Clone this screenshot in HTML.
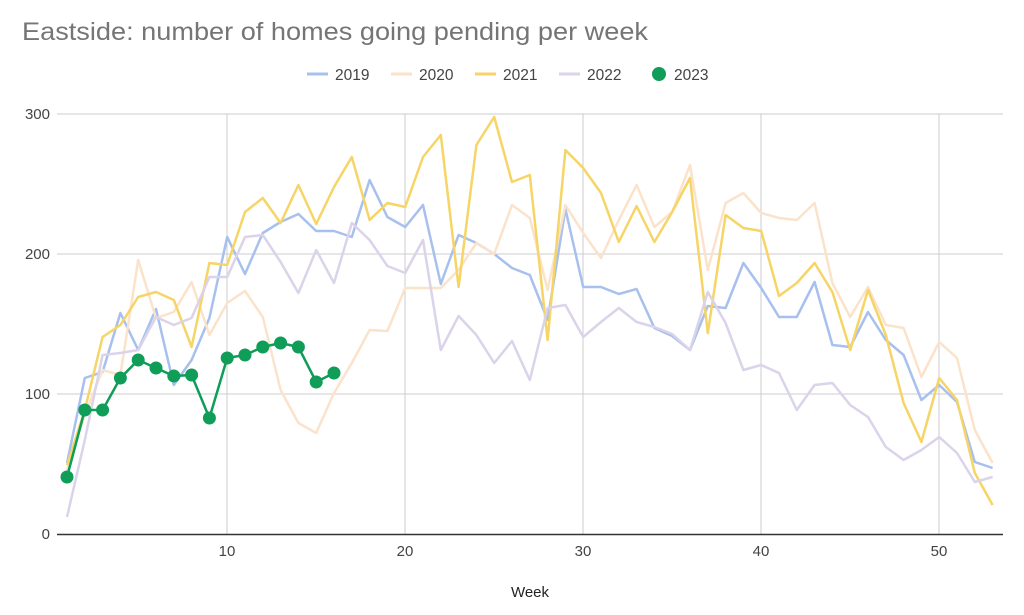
<!DOCTYPE html>
<html><head><meta charset="utf-8"><style>
html,body{margin:0;padding:0;background:#fff;}
svg{display:block;font-family:"Liberation Sans",Arial,sans-serif;}
</style></head><body>
<svg id="s" width="1024" height="615" viewBox="0 0 1024 615" xmlns="http://www.w3.org/2000/svg">
<rect width="1024" height="615" fill="#fff"/>
<text x="22" y="40" font-size="25" fill="#757575" textLength="626" lengthAdjust="spacingAndGlyphs">Eastside: number of homes going pending per week</text>
<g font-size="15.5" fill="#444">
<line x1="307" y1="74" x2="328" y2="74" stroke="#a7c0ee" stroke-width="3"/><text x="335" y="80">2019</text>
<line x1="391" y1="74" x2="412" y2="74" stroke="#fbe3cb" stroke-width="3"/><text x="419" y="80">2020</text>
<line x1="475" y1="74" x2="496" y2="74" stroke="#f6d566" stroke-width="3"/><text x="503" y="80">2021</text>
<line x1="559" y1="74" x2="580" y2="74" stroke="#dbd3ea" stroke-width="3"/><text x="587" y="80">2022</text>
<circle cx="659" cy="74" r="7" fill="#0f9d58"/><text x="674" y="80">2023</text>
</g>
<g stroke="#ccc" stroke-width="1">
<line x1="57" y1="114" x2="1003" y2="114"/>
<line x1="57" y1="254" x2="1003" y2="254"/>
<line x1="57" y1="394" x2="1003" y2="394"/>
<line x1="227" y1="114" x2="227" y2="534"/>
<line x1="405" y1="114" x2="405" y2="534"/>
<line x1="583" y1="114" x2="583" y2="534"/>
<line x1="761" y1="114" x2="761" y2="534"/>
<line x1="939" y1="114" x2="939" y2="534"/>
</g>
<line x1="57" y1="534.5" x2="1003" y2="534.5" stroke="#333" stroke-width="1.5"/>
<g font-size="15" fill="#444" text-anchor="end">
<text x="50" y="119">300</text><text x="50" y="259">200</text><text x="50" y="399">100</text><text x="50" y="539">0</text>
</g>
<g font-size="15" fill="#444" text-anchor="middle">
<text x="227" y="556">10</text><text x="405" y="556">20</text><text x="583" y="556">30</text><text x="761" y="556">40</text><text x="939" y="556">50</text>
<text x="530" y="597" fill="#222">Week</text>
</g>
<g id="lines" fill="none" stroke-width="2.5" stroke-linejoin="round"></g>
</svg>
<script>
var d={
"#a7c0ee":[463,378,372,313,350,309,385,360,318,237,274,233,222,214,231,231,237,180,217,227,205,284,235,243,254,268,275,320,209,287,287,294,289,328,336,350,306,308,263,288,317,317,282,345,347,312,340,355,400,385,402,462,468],
"#fbe3cb":[470,415,370,375,260,318,312,282,335,303,291,317,390,423,433,393,363,330,331,288,288,288,270,243,254,205,218,290,205,233,258,220,185,227,212,165,270,203,193,213,218,220,203,283,317,287,325,328,377,342,358,430,463],
"#f6d566":[465,410,337,325,297,292,300,347,263,265,212,198,223,185,224,187,157,220,203,207,157,135,287,145,117,182,175,340,150,168,193,242,206,242,212,178,333,215,228,231,296,283,263,292,350,290,335,403,442,378,400,473,505],
"#dbd3ea":[517,440,355,353,350,317,325,318,277,277,237,235,262,293,250,283,223,240,266,273,240,350,316,335,363,341,380,308,305,337,322,308,322,327,334,350,292,323,370,365,373,410,385,383,405,417,447,460,450,437,453,482,477],
"#0f9d58":[477,410,410,378,360,368,376,375,418,358,355,347,343,347,382,373]};
var g=document.getElementById('lines'),ns="http://www.w3.org/2000/svg";
for(var c in d){var p=d[c].map(function(y,i){return (67+i*17.8).toFixed(1)+","+y}).join(" ");
var l=document.createElementNS(ns,"polyline");l.setAttribute("points",p);l.setAttribute("stroke",c);g.appendChild(l);
if(c=="#0f9d58"){d[c].forEach(function(y,i){var ci=document.createElementNS(ns,"circle");ci.setAttribute("cx",67+i*17.8);ci.setAttribute("cy",y);ci.setAttribute("r",6.5);ci.setAttribute("fill",c);ci.setAttribute("stroke","none");g.appendChild(ci);});}}
</script>
</body></html>
